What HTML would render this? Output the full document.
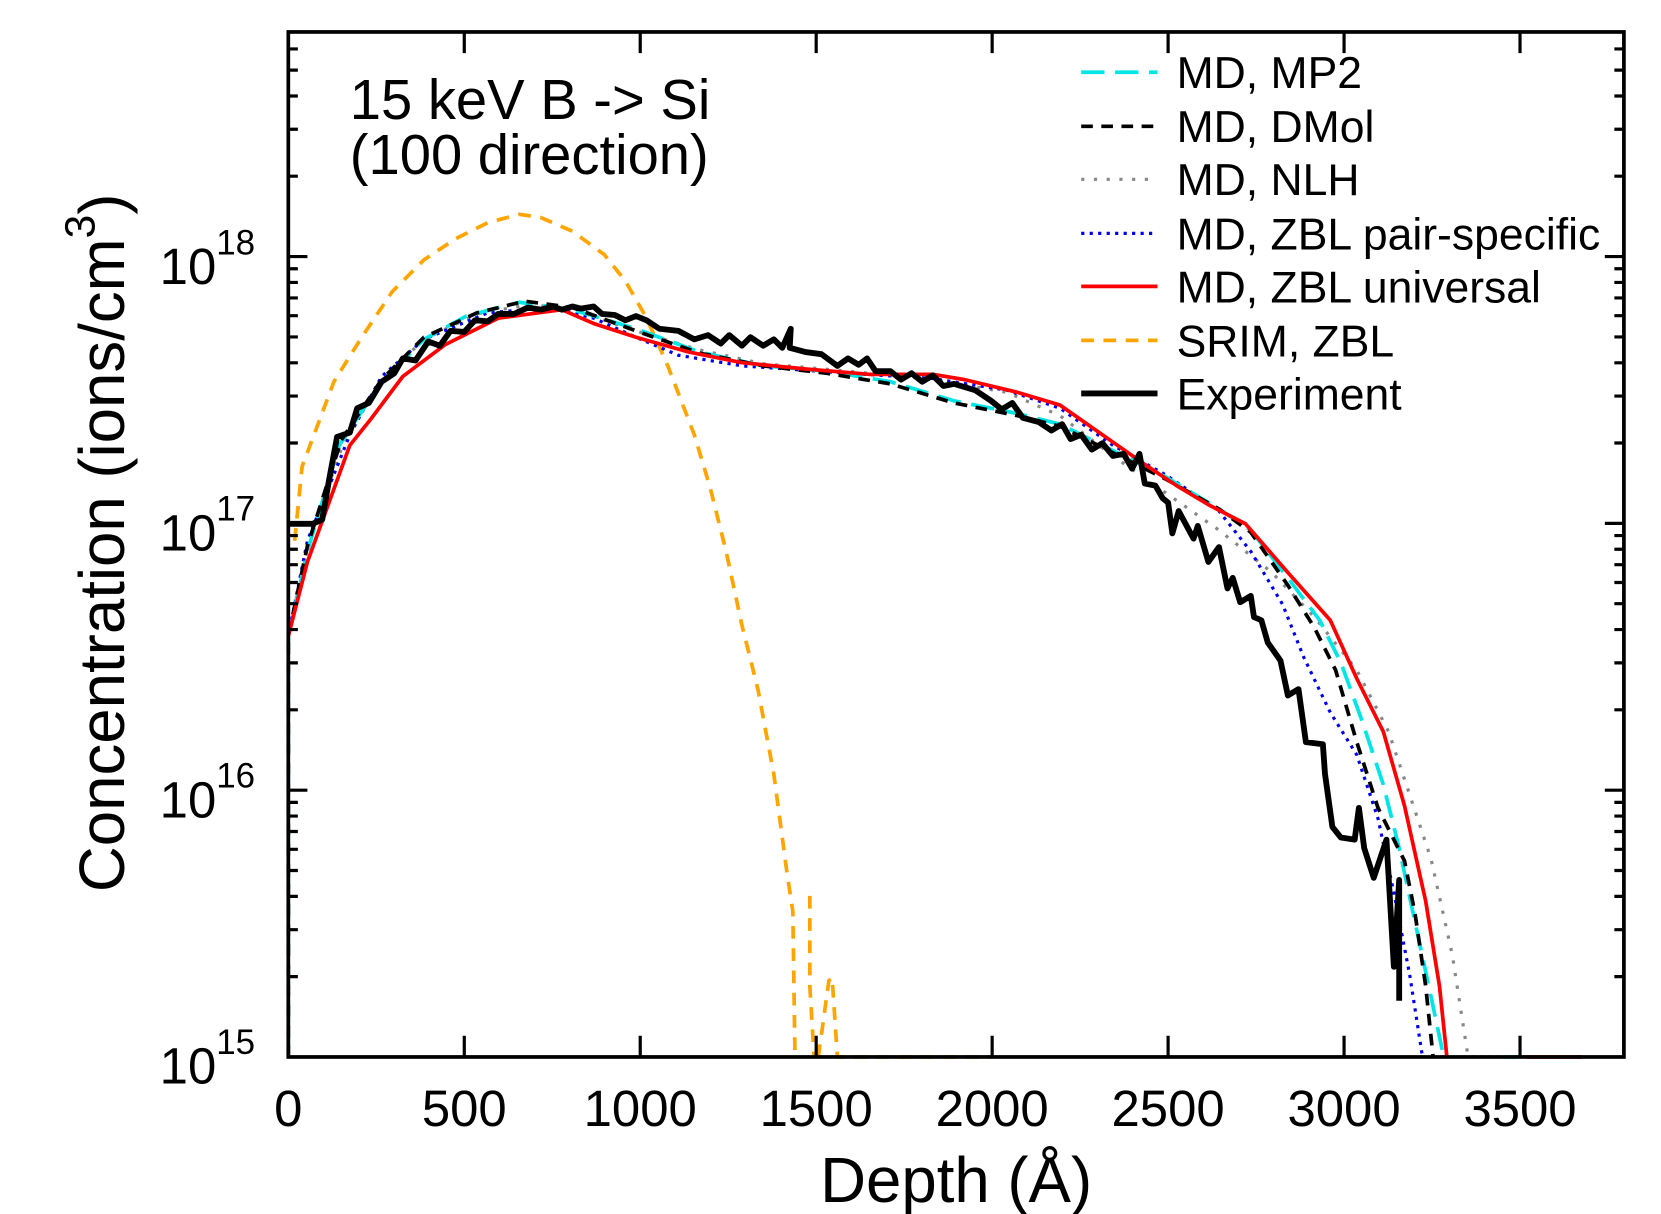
<!DOCTYPE html>
<html><head><meta charset="utf-8"><style>html,body{margin:0;padding:0;background:#fff}svg{display:block}</style></head>
<body>
<svg width="1661" height="1214" viewBox="0 0 1567 1145" xmlns="http://www.w3.org/2000/svg" font-family="Liberation Sans, Arial, sans-serif">
<rect width="1567" height="1145" fill="#fff"/>
<g fill="none" stroke-linejoin="round">
<path d="M278,510 L285,440 L300,400 L315,360 L340,320 L370,275 L400,245 L430,225 L460,210 L490,202 L510,205 L540,218 L570,240 L590,265 L610,300 L630,345 L655,410 L670,460 L685,520 L700,590 L715,650 L730,730 L742,820 L748,860 L750,997 M764,845 L764,930 L768,997 M772,997 L782,925 L785,922 L790,997 L935,997" stroke="#ffa500" stroke-width="3.5" stroke-dasharray="12,9"/>
<path d="M272,600 L290,515 L325,415 L360,358 L400,320 L450,296 L500,287 L540,292 L600,312 L660,330 L720,343 L800,350 L880,358 L950,370 L1000,392 L1050,430 L1100,465 L1150,500 L1200,540 L1240,582 L1280,632 L1310,690 L1330,750 L1350,810 L1370,900 L1385,997 L1400,997" stroke="#888" stroke-width="3" stroke-dasharray="3,9"/>
<path d="M272,600 L290,510 L330,410 L360,355 L400,320 L460,295 L520,290 L560,300 L600,318 L640,335 L700,345 L800,352 L880,357 L950,368 L1000,385 L1050,420 L1100,448 L1150,482 L1180,520 L1210,570 L1230,620 L1255,672 L1280,712 L1300,772 L1315,842 L1330,920 L1342,997 M1380,997 L1440,997" stroke="#0000ee" stroke-width="3" stroke-dasharray="3,5"/>
<path d="M272,997 L272,600 L290,520 L320,420 L360,360 L400,320 L440,298 L490,285 L540,292 L600,310 L660,332 L720,345 L780,350 L840,360 L900,378 L960,390 L1000,400 L1050,425 L1100,450 L1150,480 L1180,500 L1215,545 L1245,585 L1265,625 L1285,680 L1305,740 L1320,800 L1335,870 L1350,940 L1362,997 M1420,997 L1432,997" stroke="#00e5e5" stroke-width="3.5" stroke-dasharray="22,10"/>
<path d="M272,997 L272,600 L290,515 L322,415 L360,358 L400,318 L450,295 L495,284 L540,290 L600,312 L660,333 L720,345 L780,352 L840,362 L900,380 L960,392 L1000,402 L1050,427 L1100,452 L1150,480 L1180,502 L1215,552 L1240,592 L1260,632 L1280,700 L1300,762 L1325,812 L1335,862 L1345,930 L1352,997" stroke="#000" stroke-width="3.5" stroke-dasharray="11,8"/>
<path d="M272,600 L290,530 L330,420 L350,395 L380,355 L420,325 L470,300 L530,292 L560,305 L600,318 L650,332 L700,342 L760,348 L820,353 L880,353 L910,358 L960,370 L1000,382 L1040,410 L1080,438 L1110,458 L1140,476 L1175,494 L1215,540 L1255,585 L1280,640 L1305,690 L1325,760 L1345,850 L1358,930 L1365,997 M1440,997 L1492,997" stroke="#ff0000" stroke-width="3.5"/>
<path d="M272,494 L295,494 L304,490 L310,455 L318,412 L330,408 L337,385 L348,380 L360,360 L372,352 L380,338 L392,340 L404,322 L415,326 L425,312 L438,313 L448,302 L460,303 L470,296 L485,296 L498,290 L510,292 L522,289 L530,292 L540,289 L548,291 L560,289 L568,296 L580,297 L590,302 L600,298 L610,302 L622,310 L640,312 L655,320 L668,316 L680,324 L688,316 L700,326 L708,318 L720,326 L730,320 L738,328 L746,310 L745,328 L760,332 L775,334 L790,345 L800,338 L810,344 L818,338 L826,350 L840,350 L850,358 L860,352 L870,360 L880,354 L890,364 L900,362 L920,368 L935,378 L945,386 L955,380 L965,394 L980,398 L992,406 L1002,400 L1010,414 L1020,410 L1030,424 L1040,418 L1050,430 L1060,428 L1068,442 L1075,428 L1080,456 L1090,458 L1097,470 L1102,474 L1106,503 L1112,482 L1126,508 L1130,496 L1140,530 L1150,516 L1158,555 L1163,545 L1170,568 L1180,562 L1183,582 L1190,585 L1196,606 L1208,623 L1215,656 L1225,650 L1232,700 L1248,702 L1250,730 L1257,780 L1265,790 L1278,792 L1282,762 L1287,800 L1296,828 L1308,792 L1315,912 L1320,830 L1320,944" stroke="#000" stroke-width="5.5"/>
</g>
<rect x="272" y="30" width="1260" height="967" fill="none" stroke="#000" stroke-width="3.5"/>
<g stroke="#000" stroke-width="3">
<path d="M438,997v-20M604,997v-20M770,997v-20M936,997v-20M1102,997v-20M1268,997v-20M1434,997v-20M438,30v20M604,30v20M770,30v20M936,30v20M1102,30v20M1268,30v20M1434,30v20"/>
<path d="M272,745.3h18M272,493.6h18M272,241.9h18M1532,745.3h-18M1532,493.6h-18M1532,241.9h-18"/>
<path d="M272,921.2h9M272,876.9h9M272,845.5h9M272,821.1h9M272,801.1h9M272,784.3h9M272,769.7h9M272,756.8h9M272,669.5h9M272,625.2h9M272,593.8h9M272,569.4h9M272,549.4h9M272,532.6h9M272,518h9M272,505.1h9M272,417.8h9M272,373.5h9M272,342.1h9M272,317.7h9M272,297.7h9M272,280.9h9M272,266.3h9M272,253.4h9M272,166.1h9M272,121.8h9M272,90.4h9M272,66h9M272,46h9"/>
<path d="M1532,921.2h-9M1532,876.9h-9M1532,845.5h-9M1532,821.1h-9M1532,801.1h-9M1532,784.3h-9M1532,769.7h-9M1532,756.8h-9M1532,669.5h-9M1532,625.2h-9M1532,593.8h-9M1532,569.4h-9M1532,549.4h-9M1532,532.6h-9M1532,518h-9M1532,505.1h-9M1532,417.8h-9M1532,373.5h-9M1532,342.1h-9M1532,317.7h-9M1532,297.7h-9M1532,280.9h-9M1532,266.3h-9M1532,253.4h-9M1532,166.1h-9M1532,121.8h-9M1532,90.4h-9M1532,66h-9M1532,46h-9"/>
</g>
<g font-size="48" text-anchor="middle" fill="#000">
<text x="272" y="1062">0</text><text x="438" y="1062">500</text><text x="604" y="1062">1000</text><text x="770" y="1062">1500</text><text x="936" y="1062">2000</text><text x="1102" y="1062">2500</text><text x="1268" y="1062">3000</text><text x="1434" y="1062">3500</text>
</g>
<g font-size="48" fill="#000" text-anchor="end">
<text x="204" y="1022">10</text><text x="204" y="771">10</text><text x="204" y="519">10</text><text x="204" y="268">10</text>
</g>
<g font-size="33" fill="#000">
<text x="204" y="994">15</text><text x="204" y="743">16</text><text x="204" y="491">17</text><text x="204" y="240">18</text>
</g>
<text x="902" y="1134" font-size="60" text-anchor="middle">Depth (Å)</text>
<text transform="translate(117,512) rotate(-90)" font-size="60" text-anchor="middle">Concentration (ions/cm<tspan font-size="40" dy="-28">3</tspan><tspan dy="28">)</tspan></text>
<text x="330" y="112" font-size="53">15 keV B -&gt; Si</text>
<text x="330" y="164" font-size="53">(100 direction)</text>
<g fill="none">
<path d="M1020,68h72" stroke="#00e5e5" stroke-width="3.5" stroke-dasharray="22,10"/>
<path d="M1020,119h72" stroke="#000" stroke-width="3.5" stroke-dasharray="11,8"/>
<path d="M1020,169h72" stroke="#888" stroke-width="3" stroke-dasharray="3,9"/>
<path d="M1020,220h72" stroke="#0000ee" stroke-width="3" stroke-dasharray="3,5"/>
<path d="M1020,270h72" stroke="#ff0000" stroke-width="3.5"/>
<path d="M1020,321h72" stroke="#ffa500" stroke-width="3.5" stroke-dasharray="12,9"/>
<path d="M1020,371h72" stroke="#000" stroke-width="5.5"/>
</g>
<g font-size="42" fill="#000">
<text x="1110" y="83">MD, MP2</text>
<text x="1110" y="134">MD, DMol</text>
<text x="1110" y="184">MD, NLH</text>
<text x="1110" y="235">MD, ZBL pair-specific</text>
<text x="1110" y="285">MD, ZBL universal</text>
<text x="1110" y="336">SRIM, ZBL</text>
<text x="1110" y="386">Experiment</text>
</g>
</svg>
</body></html>
